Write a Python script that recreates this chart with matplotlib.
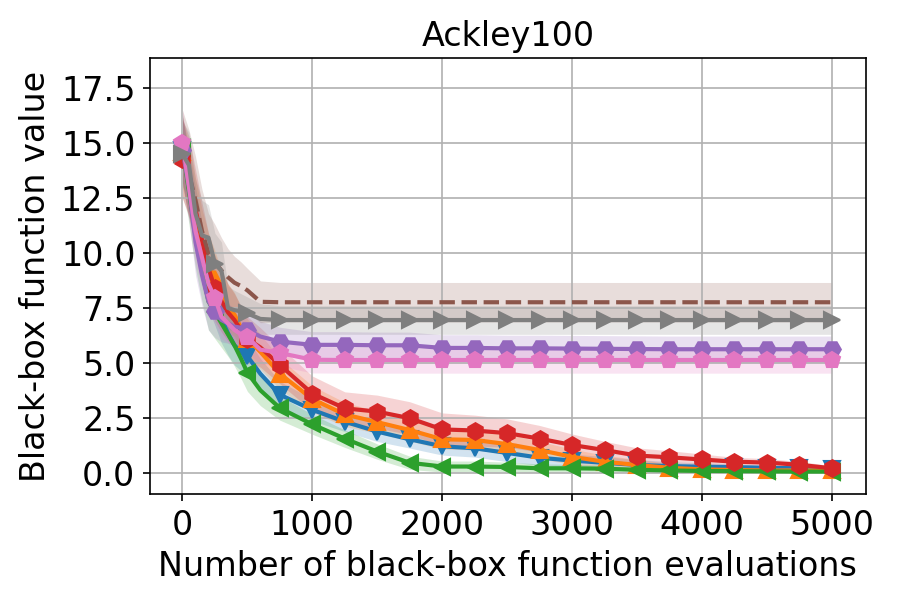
import numpy as np
import matplotlib
matplotlib.use("Agg")
import matplotlib.pyplot as plt

evals = [0, 50, 100, 150, 200, 250, 300, 350, 400, 450, 500, 600, 750,
         1000, 1250, 1500, 1750, 2000, 2250, 2500, 2750, 3000, 3250, 3500,
         3750, 4000, 4250, 4500, 4750, 5000]

blue_mean = [14.7, 13.2, 11.5, 10.0, 8.8, 7.9, 7.0, 6.35, 5.8, 5.5, 5.3, 4.5, 3.55,
             2.86, 2.32, 1.87, 1.52, 1.2, 1.11, 0.9, 0.68, 0.55, 0.45, 0.35,
             0.3, 0.27, 0.25, 0.22, 0.2, 0.18]
blue_std = [1.5, 1.5, 1.5, 1.4, 1.3, 1.2, 1.1, 1.0, 0.9, 0.85, 0.8, 0.7, 0.6,
            0.5, 0.45, 0.45, 0.4, 0.4, 0.4, 0.4, 0.35, 0.3, 0.28, 0.25,
            0.2, 0.18, 0.15, 0.12, 0.1, 0.1]

orange_mean = [14.6, 13.3, 11.8, 10.5, 9.5, 8.8, 8.0, 7.5, 7.2, 6.6, 6.1, 5.5, 4.5,
               3.35, 2.65, 2.3, 1.94, 1.52, 1.49, 1.3, 1.03, 0.72, 0.5, 0.35,
               0.22, 0.15, 0.12, 0.1, 0.1, 0.1]
orange_std = [1.6, 1.6, 1.6, 1.5, 1.4, 1.3, 1.2, 1.1, 1.0, 0.95, 0.9, 0.8, 0.7,
              0.6, 0.55, 0.5, 0.5, 0.45, 0.45, 0.45, 0.4, 0.35, 0.3, 0.25,
              0.2, 0.15, 0.12, 0.1, 0.08, 0.08]

green_mean = [14.8, 12.8, 10.8, 9.2, 7.8, 7.3, 6.8, 6.3, 5.8, 5.2, 4.55, 3.75, 2.94,
              2.2, 1.55, 0.96, 0.45, 0.28, 0.28, 0.26, 0.2, 0.2, 0.18, 0.13,
              0.1, 0.08, 0.07, 0.06, 0.05, 0.05]
green_std = [1.5, 1.5, 1.5, 1.4, 1.3, 1.2, 1.1, 1.0, 0.95, 0.9, 0.85, 0.7, 0.55,
             0.45, 0.4, 0.35, 0.3, 0.25, 0.25, 0.22, 0.2, 0.18, 0.15, 0.12,
             0.1, 0.08, 0.07, 0.06, 0.05, 0.05]

red_mean = [14.3, 13.5, 12.0, 10.6, 9.3, 8.4, 7.8, 7.3, 6.95, 6.5, 6.1, 5.7, 4.9,
            3.6, 2.93, 2.78, 2.48, 1.97, 1.92, 1.8, 1.55, 1.26, 1.03, 0.78,
            0.7, 0.6, 0.5, 0.46, 0.36, 0.2]
red_std = [1.8, 1.8, 1.8, 1.7, 1.6, 1.5, 1.4, 1.3, 1.2, 1.1, 1.0, 0.9, 0.85,
           0.8, 0.75, 0.75, 0.75, 0.75, 0.7, 0.65, 0.6, 0.5, 0.4, 0.35,
           0.3, 0.25, 0.2, 0.18, 0.15, 0.12]

purple_mean = [14.7, 13.0, 10.5, 9.0, 7.8, 7.35, 6.95, 6.8, 6.65, 6.6, 6.5, 6.2, 5.97,
               5.82, 5.82, 5.8, 5.8, 5.68, 5.68, 5.66, 5.66, 5.65, 5.64, 5.63,
               5.62, 5.62, 5.62, 5.62, 5.62, 5.62]
purple_std = [1.5, 1.5, 1.5, 1.4, 1.3, 1.2, 1.0, 0.9, 0.85, 0.8, 0.75, 0.7, 0.65,
              0.6, 0.6, 0.6, 0.6, 0.6, 0.6, 0.6, 0.6, 0.6, 0.6, 0.6,
              0.6, 0.6, 0.6, 0.6, 0.6, 0.6]

brown_mean = [14.5, 13.6, 12.4, 11.0, 10.0, 9.6, 9.2, 8.9, 8.65, 8.5, 8.3, 7.78, 7.76,
              7.76, 7.76, 7.76, 7.76, 7.76, 7.76, 7.76, 7.76, 7.76, 7.76, 7.76,
              7.76, 7.76, 7.76, 7.76, 7.76, 7.76]
brown_std = [2.0, 2.0, 2.0, 1.9, 1.8, 1.7, 1.5, 1.3, 1.2, 1.1, 1.0, 0.95, 0.9,
             0.9, 0.9, 0.9, 0.9, 0.9, 0.9, 0.9, 0.9, 0.9, 0.9, 0.9,
             0.9, 0.9, 0.9, 0.9, 0.9, 0.9]

pink_mean = [15.0, 13.0, 11.0, 9.8, 8.6, 7.95, 7.1, 6.8, 6.5, 6.3, 6.17, 5.6, 5.45,
             5.14, 5.13, 5.13, 5.13, 5.13, 5.13, 5.13, 5.13, 5.13, 5.13, 5.13,
             5.13, 5.13, 5.13, 5.13, 5.13, 5.13]
pink_std = [1.5, 1.5, 1.5, 1.4, 1.3, 1.2, 1.0, 0.9, 0.8, 0.75, 0.7, 0.65, 0.6,
            0.6, 0.6, 0.6, 0.6, 0.6, 0.6, 0.6, 0.6, 0.6, 0.6, 0.6,
            0.6, 0.6, 0.6, 0.6, 0.6, 0.6]

gray_mean = [14.5, 14.0, 11.8, 10.8, 10.7, 9.5, 9.2, 7.5, 7.4, 7.35, 7.25, 7.0, 6.95,
             6.95, 6.95, 6.95, 6.95, 6.95, 6.95, 6.95, 6.95, 6.95, 6.95, 6.95,
             6.95, 6.95, 6.95, 6.95, 6.95, 6.95]
gray_std = [1.5, 1.5, 1.6, 1.6, 1.5, 1.4, 1.3, 1.0, 0.9, 0.8, 0.75, 0.7, 0.65,
            0.65, 0.65, 0.65, 0.65, 0.65, 0.65, 0.65, 0.65, 0.65, 0.65, 0.65,
            0.65, 0.65, 0.65, 0.65, 0.65, 0.65]

series = [
    (blue_mean, blue_std, "tab:blue", "v", "-"),
    (orange_mean, orange_std, "tab:orange", "^", "-"),
    (green_mean, green_std, "tab:green", "<", "-"),
    (red_mean, red_std, "tab:red", "h", "-"),
    (purple_mean, purple_std, "tab:purple", "H", "-"),
    (brown_mean, brown_std, "tab:brown", None, "--"),
    (pink_mean, pink_std, "tab:pink", "p", "-"),
    (gray_mean, gray_std, "tab:gray", ">", "-"),
]

x = np.array(evals)
marks = [i for i, v in enumerate(evals) if v % 250 == 0]

fig = plt.figure(figsize=(6, 4), dpi=150)
ax = fig.add_axes([0.1667, 0.1767, 0.7953, 0.7266])

for mean, std, c, m, ls in series:
    mean = np.array(mean)
    std = np.array(std)
    ax.fill_between(x, mean - std, mean + std, color=c, alpha=0.2, lw=0)
    ax.plot(x, mean, color=c, ls=ls, lw=2, marker=m, markersize=8,
            markevery=marks)

ax.set_xlim(-250, 5262)
ax.set_ylim(-0.97, 18.88)
ax.set_yticks([0, 2.5, 5, 7.5, 10, 12.5, 15, 17.5])
ax.set_xticks([0, 1000, 2000, 3000, 4000, 5000])
ax.tick_params(labelsize=16)
ax.grid(True)
ax.set_title("Ackley100", fontsize=16)
ax.set_xlabel("Number of black-box function evaluations", fontsize=16)
ax.set_ylabel("Black-box function value", fontsize=16)

fig.savefig("out.png", dpi=150)
